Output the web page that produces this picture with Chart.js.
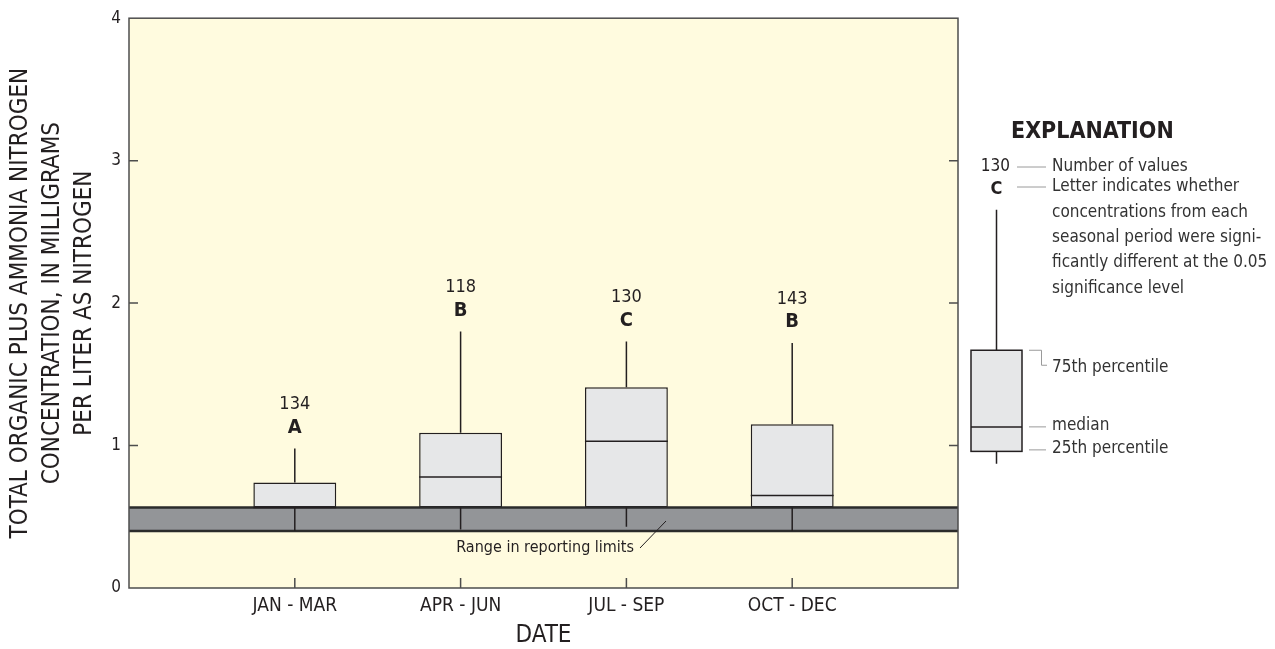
<!DOCTYPE html>
<html>
<head>
<meta charset="utf-8">
<script src="https://cdn.jsdelivr.net/npm/chart.js@4/dist/chart.umd.min.js"></script>
<style>
  html, body { margin: 0; padding: 0; background: #ffffff; }
  #wrap { width: 1275px; height: 649px; }
</style>
</head>
<body>
<div id="wrap"><canvas id="c" width="1275" height="649"></canvas></div>
<script>
// Seasonal distributions of total organic plus ammonia nitrogen (mg/L as N)
const categories   = ['JAN - MAR', 'APR - JUN', 'JUL - SEP', 'OCT - DEC'];
const whiskerLow   = [0.40, 0.41, 0.43, 0.40];
const quartile1    = [0.565, 0.565, 0.565, 0.565];
const medians      = [0.565, 0.78, 1.03, 0.65];
const quartile3    = [0.74, 1.09, 1.41, 1.15];
const whiskerHigh  = [0.98, 1.80, 1.73, 1.72];
const sampleCounts = [134, 118, 130, 143];
const groupLetters = ['A', 'B', 'C', 'B'];
const reportingLimits = [0.40, 0.565];
const yTickValues  = [0, 1, 2, 3, 4];
// Explanation box: low whisker, 25th, median, 75th, high whisker
const sampleBox    = [0.873, 0.959, 1.131, 1.669, 2.656];
const sampleCount  = 130;
const sampleLetter = 'C';

const FONT = "'Liberation Sans Narrow', 'DejaVu Sans Condensed', 'Arial Narrow', sans-serif";
const INK = '#231f20';

const decorations = {
  id: 'decorations',
  beforeDatasetsDraw(chart) {
    const { ctx, chartArea: a } = chart;
    ctx.save();
    ctx.fillStyle = '#fffbdf';
    ctx.fillRect(a.left, a.top, a.right - a.left, a.bottom - a.top);
    ctx.restore();
  },
  afterDatasetsDraw(chart) {
    const { ctx, chartArea: a, scales: { x, y } } = chart;
    ctx.save();

    // reporting-limit band
    const bandTop = y.getPixelForValue(reportingLimits[1]);
    const bandBot = y.getPixelForValue(reportingLimits[0]);
    ctx.fillStyle = '#939598';
    ctx.fillRect(a.left, bandTop, a.right - a.left, bandBot - bandTop);
    ctx.strokeStyle = '#2b2b2b';
    ctx.lineWidth = 2.5;
    ctx.beginPath();
    ctx.moveTo(a.left, bandTop); ctx.lineTo(a.right, bandTop);
    ctx.moveTo(a.left, bandBot); ctx.lineTo(a.right, bandBot);
    ctx.stroke();

    // whiskers, medians and labels
    const meta = chart.getDatasetMeta(0);
    categories.forEach((c, i) => {
      const cx = x.getPixelForValue(i + 1);
      const half = meta.data[i].width / 2;
      ctx.strokeStyle = INK;
      ctx.lineWidth = 1.5;
      ctx.beginPath();
      ctx.moveTo(cx, y.getPixelForValue(quartile3[i]));
      ctx.lineTo(cx, y.getPixelForValue(whiskerHigh[i]));
      ctx.moveTo(cx, y.getPixelForValue(quartile1[i]));
      ctx.lineTo(cx, y.getPixelForValue(whiskerLow[i]));
      ctx.stroke();
      ctx.beginPath();
      ctx.moveTo(cx - half, y.getPixelForValue(medians[i]));
      ctx.lineTo(cx + half, y.getPixelForValue(medians[i]));
      ctx.stroke();

      const topPx = y.getPixelForValue(whiskerHigh[i]);
      ctx.fillStyle = INK;
      ctx.textAlign = 'center';
      ctx.textBaseline = 'middle';
      ctx.font = 'bold 20px ' + FONT;
      ctx.fillText(groupLetters[i], cx, topPx - 21);
      ctx.font = '18px ' + FONT;
      ctx.fillText(String(sampleCounts[i]), cx, topPx - 44);
    });

    // frame
    ctx.strokeStyle = '#4d4d4d';
    ctx.lineWidth = 1.5;
    ctx.strokeRect(a.left, a.top, a.right - a.left, a.bottom - a.top);

    // inward ticks
    ctx.beginPath();
    yTickValues.forEach(v => {
      if (v === yTickValues[0] || v === yTickValues[yTickValues.length - 1]) return;
      const py = y.getPixelForValue(v);
      ctx.moveTo(a.left, py); ctx.lineTo(a.left + 9, py);
      ctx.moveTo(a.right, py); ctx.lineTo(a.right - 9, py);
    });
    categories.forEach((c, i) => {
      const px = x.getPixelForValue(i + 1);
      ctx.moveTo(px, a.bottom); ctx.lineTo(px, a.bottom - 10);
    });
    ctx.stroke();

    // band callout
    ctx.fillStyle = INK;
    ctx.font = '16px ' + FONT;
    ctx.textAlign = 'right';
    ctx.textBaseline = 'middle';
    ctx.fillText('Range in reporting limits', 634, 548);
    ctx.strokeStyle = INK;
    ctx.lineWidth = 1;
    ctx.beginPath();
    ctx.moveTo(640, 548); ctx.lineTo(666, 521);
    ctx.stroke();

    // explanation
    const ex = 996.5, hw = 25.5;
    const [lo, p25, med, p75, hi] = sampleBox.map(v => y.getPixelForValue(v));
    ctx.textAlign = 'left';
    ctx.font = 'bold 23px ' + FONT;
    ctx.fillText('EXPLANATION', 1011, 132);

    ctx.strokeStyle = INK;
    ctx.lineWidth = 1.5;
    ctx.beginPath();
    ctx.moveTo(ex, hi); ctx.lineTo(ex, p75);
    ctx.moveTo(ex, p25); ctx.lineTo(ex, lo);
    ctx.stroke();
    ctx.fillStyle = '#e6e7e8';
    ctx.fillRect(ex - hw, p75, hw * 2, p25 - p75);
    ctx.strokeRect(ex - hw, p75, hw * 2, p25 - p75);
    ctx.beginPath();
    ctx.moveTo(ex - hw, med); ctx.lineTo(ex + hw, med);
    ctx.stroke();

    ctx.fillStyle = INK;
    ctx.font = '17px ' + FONT;
    ctx.textAlign = 'right';
    ctx.fillText(String(sampleCount), 1010, 167);
    ctx.textAlign = 'center';
    ctx.font = 'bold 18px ' + FONT;
    ctx.fillText(sampleLetter, ex, 189);

    ctx.strokeStyle = '#9a9a9a';
    ctx.lineWidth = 1;
    ctx.beginPath();
    ctx.moveTo(1017, 167); ctx.lineTo(1046, 167);
    ctx.moveTo(1017, 187); ctx.lineTo(1046, 187);
    ctx.moveTo(1029, p75); ctx.lineTo(1041.5, p75); ctx.lineTo(1041.5, p75 + 15); ctx.lineTo(1047, p75 + 15);
    ctx.moveTo(1029, med); ctx.lineTo(1046, med);
    ctx.moveTo(1029, p25 - 1.5); ctx.lineTo(1046, p25 - 1.5);
    ctx.stroke();

    ctx.fillStyle = '#333333';
    ctx.font = '17px ' + FONT;
    ctx.textAlign = 'left';
    const notes = [
      ['Number of values', 167],
      ['Letter indicates whether', 187],
      ['concentrations from each', 213],
      ['seasonal period were signi-', 238],
      ['ficantly different at the 0.05', 263],
      ['significance level', 289]
    ];
    notes.forEach(([t, ty]) => ctx.fillText(t, 1052, ty));
    ctx.fillText('75th percentile', 1052, p75 + 17);
    ctx.fillText('median', 1052, med - 1);
    ctx.fillText('25th percentile', 1052, p25 - 3);

    ctx.restore();
  }
};

new Chart(document.getElementById('c'), {
  type: 'bar',
  data: {
    datasets: [{
      data: categories.map((c, i) => ({ x: i + 1, y: [quartile1[i], quartile3[i]] })),
      backgroundColor: '#e6e7e8',
      borderColor: INK,
      borderWidth: 1.5,
      borderSkipped: false,
      barPercentage: 0.5,
      categoryPercentage: 1
    }]
  },
  options: {
    responsive: false,
    devicePixelRatio: 1,
    animation: false,
    layout: { padding: { top: 15, right: 317, left: 0, bottom: 0 } },
    plugins: { legend: { display: false }, tooltip: { enabled: false } },
    scales: {
      x: {
        type: 'linear',
        min: 0, max: 5,
        offset: false,
        grid: { display: false, drawTicks: false, offset: false },
        border: { display: false },
        afterBuildTicks: s => { s.ticks = categories.map((c, i) => ({ value: i + 1 })); },
        afterFit: s => { s.height = 61; },
        ticks: {
          callback: v => categories[v - 1] || '',
          font: { family: FONT, size: 19 },
          color: INK,
          padding: 7,
          maxRotation: 0,
          autoSkip: false
        },
        title: {
          display: true,
          text: 'DATE',
          font: { family: FONT, size: 24, lineHeight: 1 },
          color: INK,
          padding: { top: 0, bottom: 1 }
        }
      },
      y: {
        min: 0, max: 4,
        grid: { display: false, drawTicks: false },
        border: { display: false },
        afterFit: s => { s.width = 129; },
        ticks: {
          stepSize: 1,
          font: { family: FONT, size: 17 },
          color: INK,
          padding: 8
        },
        title: {
          display: true,
          text: ['TOTAL ORGANIC PLUS AMMONIA NITROGEN', 'CONCENTRATION, IN MILLIGRAMS', 'PER LITER AS NITROGEN'],
          font: { family: FONT, size: 24, lineHeight: 32 / 24 },
          color: INK,
          padding: { top: 4.5, bottom: 0 }
        }
      }
    }
  },
  plugins: [decorations]
});
</script>
</body>
</html>
